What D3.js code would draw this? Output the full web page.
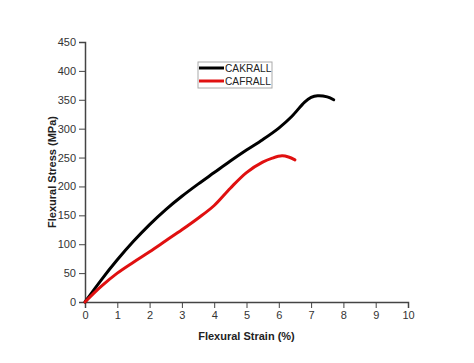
<!DOCTYPE html>
<html><head><meta charset="utf-8">
<script src="https://cdn.jsdelivr.net/npm/d3@7"></script>
<style>body{margin:0;background:#fff}svg{display:block}</style>
</head><body>
<svg id="c" width="474" height="363"></svg>
<script>
const seriesNames = ["CAKRALL", "CAFRALL"];
const cakrallX = [0, 0.5, 1, 1.5, 2, 2.5, 3, 3.5, 4, 4.5, 5, 5.5, 6, 6.4, 6.8, 7.0, 7.2, 7.5, 7.7];
const cakrallY = [0, 38, 73, 105, 134, 160, 183, 204, 224, 244, 263, 281, 301, 321, 346, 354, 357, 355, 350];
const cafrallX = [0, 0.5, 1, 1.5, 2, 2.5, 3, 3.5, 4, 4.5, 5, 5.5, 5.8, 6.1, 6.3, 6.5];
const cafrallY = [0, 27, 50, 69, 87, 106, 125, 145, 167, 197, 224, 242, 249, 253, 251, 246];
const xTicks = [0,1,2,3,4,5,6,7,8,9,10];
const yTicks = [0,50,100,150,200,250,300,350,400,450];
const colors = ["#000000", "#e01010"];

const svg = d3.select("#c");
const x = d3.scaleLinear().domain([0,10]).range([85,408]);
const y = d3.scaleLinear().domain([0,450]).range([302,42]);
const font = "'Liberation Sans', Arial, sans-serif";
const axisColor = "#444";

const gx = svg.append("g").attr("transform","translate(0,302)");
gx.call(d3.axisBottom(x).tickValues(d3.range(0.5,10,1)).tickSize(3).tickFormat(""));
gx.call(d3.axisBottom(x).tickValues(xTicks).tickSize(6).tickPadding(3).tickFormat(d3.format("d")));
const gy = svg.append("g").attr("transform","translate(85,0)");
gy.call(d3.axisLeft(y).tickValues(d3.range(25,450,50)).tickSize(3).tickFormat(""));
gy.call(d3.axisLeft(y).tickValues(yTicks).tickSize(6).tickPadding(3).tickFormat(d3.format("d")));
svg.selectAll(".domain").attr("stroke",axisColor).attr("stroke-width",1.5);
svg.selectAll(".tick line").attr("stroke",axisColor).attr("stroke-width",1);
svg.selectAll(".tick text").attr("font-family",font).attr("font-size",11).attr("fill","#333");

const line = d3.line().x(d=>x(d[0])).y(d=>y(d[1])).curve(d3.curveCatmullRom.alpha(0.5));
const data = [d3.zip(cakrallX,cakrallY), d3.zip(cafrallX,cafrallY)];
data.forEach((d,i)=>{
  svg.append("path").datum(d).attr("d",line).attr("fill","none")
    .attr("stroke",colors[i]).attr("stroke-width",3).attr("stroke-linecap","round")
    .attr("stroke-linejoin","round");
});

const lg = svg.append("g");
lg.append("rect").attr("x",198).attr("y",62).attr("width",74).attr("height",26)
  .attr("fill","#fff").attr("stroke","#aaa").attr("stroke-width",1);
seriesNames.forEach((n,i)=>{
  const yy = 68 + i*13;
  lg.append("line").attr("x1",199).attr("x2",224).attr("y1",yy).attr("y2",yy)
    .attr("stroke",colors[i]).attr("stroke-width",3);
  lg.append("text").attr("x",225).attr("y",yy+4).text(n)
    .attr("font-family",font).attr("font-size",10.2).attr("fill","#222");
});

svg.append("text").attr("x",246.5).attr("y",340).attr("text-anchor","middle")
  .attr("font-family",font).attr("font-size",11).attr("font-weight","bold").attr("fill","#222")
  .text("Flexural Strain (%)");
svg.append("text").attr("transform","translate(56,172) rotate(-90)").attr("text-anchor","middle")
  .attr("font-family",font).attr("font-size",11).attr("font-weight","bold").attr("fill","#222")
  .text("Flexural Stress (MPa)");
</script>
</body></html>
